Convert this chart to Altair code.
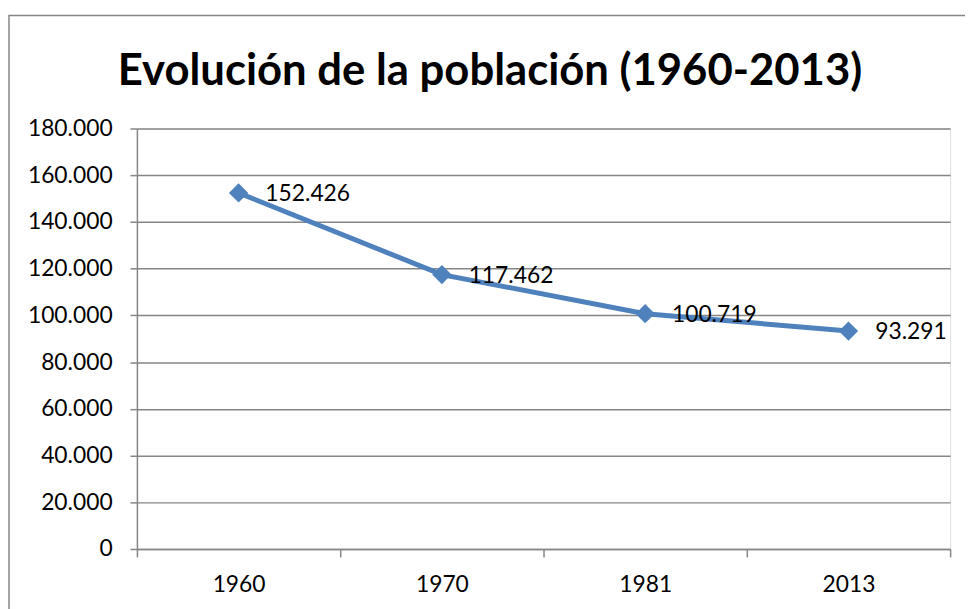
import altair as alt
import pandas as pd

years = ["1960", "1970", "1981", "2013"]
poblacion = [152426, 117462, 100719, 93291]
title_text = "Evolución de la población (1960-2013)"

df = pd.DataFrame({"year": years, "value": poblacion})
FONT = "Lato"
GRAY = "#868686"
BLUE = "#4f81bd"

fmt_expr = "replace(format(datum.value, ','), /,/g, '.')"

xenc = alt.X("year:O", sort=years, title=None,
             scale=alt.Scale(type="band", paddingInner=0, paddingOuter=0),
             bandPosition=0.5,
             axis=alt.Axis(tickBand="extent", labelAngle=0, labelFontSize=23,
                           labelFont=FONT, labelColor="#000000", labelPadding=17,
                           tickSize=8, tickColor=GRAY, domainColor=GRAY,
                           tickWidth=1.5, domainWidth=1.5, grid=False))
yenc = alt.Y("value:Q", title=None,
             scale=alt.Scale(domain=[0, 180000]),
             axis=alt.Axis(values=list(range(0, 180001, 20000)), labelExpr=fmt_expr,
                           labelFontSize=23, labelFont=FONT, labelColor="#000000",
                           labelPadding=18, tickSize=7, tickColor=GRAY,
                           domainColor=GRAY, tickWidth=1.5, domainWidth=1.5,
                           grid=True, gridColor=GRAY, gridWidth=1.5))

base = alt.Chart(df)

line = base.mark_line(color=BLUE, strokeWidth=5).encode(x=xenc, y=yenc)
pts = base.mark_point(shape="diamond", filled=True, color=BLUE, size=380, opacity=1).encode(x=xenc, y=yenc)
labels = base.transform_calculate(lbl=fmt_expr).mark_text(
    align="left", baseline="middle", dx=27, dy=1, fontSize=23, font=FONT, color="#000000"
).encode(x=xenc, y=yenc, text="lbl:N")

dummy = alt.Chart(pd.DataFrame({"t": [title_text]}))
frame = dummy.mark_rect(filled=False, stroke=GRAY, strokeWidth=1.5).encode(
    x=alt.value(-129), x2=alt.value(1000), y=alt.value(-114), y2=alt.value(700))
title = dummy.mark_text(fontSize=44, fontWeight="bold", font=FONT, color="#000000",
                        align="center", baseline="middle").encode(
    x=alt.value(356), y=alt.value(-57), text="t:N")

chart = alt.layer(frame, title, line, pts, labels).properties(
    width=820, height=424,
    autosize=alt.AutoSizeParams(type="none"),
    padding={"left": 130, "top": 119, "right": 15, "bottom": 58},
).configure_view(stroke="#6f96cc", strokeWidth=1.5).configure(background="white")

chart.save("out.html", embed_options={"renderer": "svg", "actions": False})
